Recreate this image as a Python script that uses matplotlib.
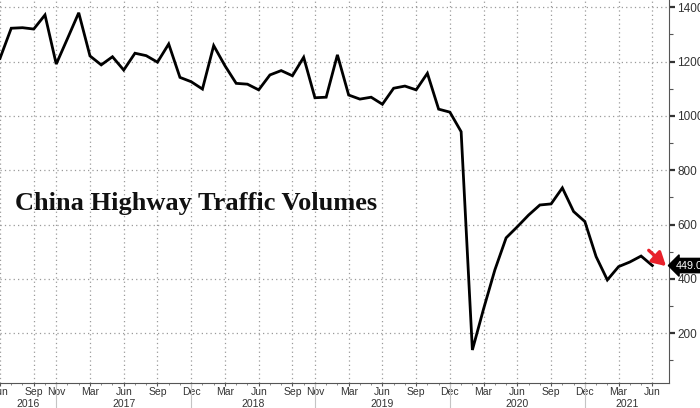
import numpy as np
import matplotlib
matplotlib.use("Agg")
import matplotlib.pyplot as plt
from matplotlib.transforms import blended_transform_factory

# monthly points (Bloomberg drops missing months, so x is just the point index)
traffic = [1212, 1323, 1325, 1320, 1372, 1191, 1285, 1380, 1221, 1188,
           1218, 1169, 1231, 1222, 1198, 1265, 1142, 1126, 1099, 1259,
           1185, 1120, 1117, 1096, 1151, 1167, 1148, 1216, 1067, 1069,
           1225, 1077, 1062, 1069, 1043, 1102, 1110, 1096, 1157, 1025,
           1014, 942, 138, 290, 433, 551, 592, 635, 672, 676,
           735, 648, 611, 482, 396, 445, 462, 484, 449]
last_value = 449.0

month_pos = [0, 3, 5, 8, 11, 14, 17, 20, 23, 26, 28, 31, 34, 37, 40, 43, 46, 49, 52, 55, 58]
month_labels = ["Jun", "Sep", "Nov", "Mar", "Jun", "Sep", "Dec", "Mar", "Jun", "Sep", "Nov",
                "Mar", "Jun", "Sep", "Dec", "Mar", "Jun", "Sep", "Dec", "Mar", "Jun"]
year_breaks = [5, 17, 28, 40, 52]
years = ["2016", "2017", "2018", "2019", "2020", "2021"]
y_ticks = [200, 400, 600, 800, 1000, 1200, 1400]

x = np.arange(len(traffic))

fig = plt.figure(figsize=(7, 4.08), dpi=100)
ax = fig.add_axes([0.0, 0.061, 0.956, 0.939])

ax.plot(x, traffic, color="black", lw=2.0, solid_joinstyle="miter", zorder=3)

ax.set_xlim(0, 59.5)
ax.set_ylim(16, 1427)

# grid
ax.set_xticks(month_pos)
ax.set_xticklabels(month_labels)
ax.set_xticks(x, minor=True)
ax.set_yticks(y_ticks)
ax.set_yticks(np.arange(100, 1400, 200), minor=True)
ax.grid(True, which="major", color="#9a9a9a", lw=0.9, ls=(0, (1, 2.5)))

for s in ["top", "left"]:
    ax.spines[s].set_visible(False)
ax.spines["right"].set_color("#555555")
ax.spines["bottom"].set_color("#555555")
ax.yaxis.tick_right()
ax.tick_params(axis="y", which="major", direction="out", length=4, width=1.6,
               color="#333333", labelsize=8.5, labelcolor="#333333", pad=2)
ax.tick_params(axis="y", which="minor", direction="out", length=3, width=0.8, color="#555555")
ax.tick_params(axis="x", which="major", direction="out", length=2.5, width=0.8,
               color="#555555", labelsize=7.5, labelcolor="#333333", pad=0.5)
ax.tick_params(axis="x", which="minor", direction="out", length=1.5, width=0.6, color="#777777")
for lab in ax.get_xticklabels() + ax.get_yticklabels():
    lab.set_fontfamily("Liberation Sans")

# year row
trans = blended_transform_factory(ax.transData, ax.transAxes)
edges = [0] + year_breaks + [59.5]
for i, yr in enumerate(years):
    ax.text((edges[i] + edges[i + 1]) / 2, -0.055, yr, transform=trans, ha="center", va="center",
            fontsize=7.5, color="#333333", family="Liberation Sans")
for b in year_breaks:
    ax.plot([b, b], [0, -0.07], transform=trans, color="#c4c4c4", lw=0.8, clip_on=False)

# title inside plot
ax.text(0.022, 0.47, "China Highway Traffic Volumes", transform=ax.transAxes,
        fontsize=19, fontweight="bold", family="Liberation Serif", color="#111111",
        va="center", ha="left")

# last value tag
ax.annotate(f"{last_value:.1f}", xy=(1.0, last_value), xycoords=("axes fraction", "data"),
            xytext=(5, 0), textcoords="offset points", ha="left", va="center",
            fontsize=7.8, color="white", family="Liberation Sans",
            bbox=dict(boxstyle="larrow,pad=0.2", fc="black", ec="black"), annotation_clip=False)

# red arrow
ax.annotate("", xy=(59.4, 440), xytext=(57.5, 512),
            arrowprops=dict(arrowstyle="-|>,head_width=0.45,head_length=0.8",
                            color="#e8202a", lw=2.4), annotation_clip=False)

fig.savefig("out.png", dpi=100)
